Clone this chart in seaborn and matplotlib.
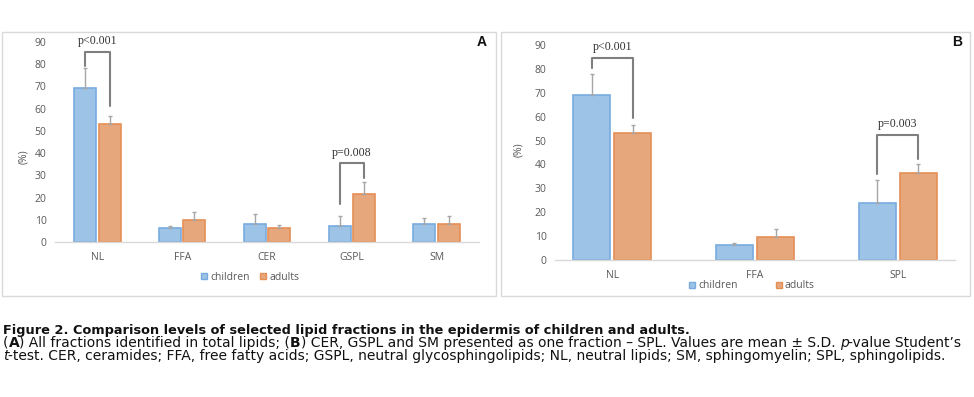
import numpy as np
import pandas as pd
import matplotlib
matplotlib.use("Agg")
import matplotlib.pyplot as plt
from matplotlib.patches import Rectangle, Patch
import seaborn as sns

# ---------------- data ----------------
groups = ["children", "adults"]

a_categories = ["NL", "FFA", "CER", "GSPL", "SM"]
a_children = [69.1, 6.3, 8.4, 7.2, 8.4]
a_children_sd = [8.9, 0.9, 4.2, 4.5, 2.4]
a_adults = [53.2, 9.9, 6.3, 21.7, 8.1]
a_adults_sd = [3.6, 3.6, 1.5, 5.5, 3.6]

b_categories = ["NL", "FFA", "SPL"]
b_children = [68.9, 6.1, 24.0]
b_children_sd = [9.1, 1.2, 9.6]
b_adults = [53.0, 9.6, 36.4]
b_adults_sd = [3.6, 3.5, 3.9]

# significance brackets: (category, label, top, left leg end, right leg end)
a_brackets = [("NL", "p<0.001", 85.5, 79.2, 61.0),
              ("GSPL", "p=0.008", 35.6, 17.0, 28.7)]
b_brackets = [("NL", "p<0.001", 84.4, 80.2, 59.3),
              ("SPL", "p=0.003", 52.4, 36.1, 42.1)]

yticks = [0, 10, 20, 30, 40, 50, 60, 70, 80, 90]

caption_title = "Figure 2. Comparison levels of selected lipid fractions in the epidermis of children and adults."
caption_l2 = [("(", "normal"), ("A", "bold"), (") All fractions identified in total lipids; (", "normal"),
              ("B", "bold"),
              (") CER, GSPL and SM presented as one fraction \u2013 SPL. Values are mean \u00b1 S.D. ", "normal"),
              ("p", "italic"), ("-value Student\u2019s", "normal")]
caption_l3 = [("t", "italic"),
              ("-test. CER, ceramides; FFA, free fatty acids; GSPL, neutral glycosphingolipids; NL, neutral lipids; SM, sphingomyelin; SPL, sphingolipids.", "normal")]

# ---------------- style ----------------
sns.set_theme(style="white")
plt.rcParams["font.family"] = ["Open Sans", "DejaVu Sans"]

fill = {"children": "#9dc3e6", "adults": "#e6a77d"}
edge = {"children": "#78acdf", "adults": "#e68f55"}
grey_txt = "#595959"

W, H = 974, 397
fig = plt.figure(figsize=(W / 100, H / 100), dpi=100)


def px_axes(left, right, top, bottom):
    return fig.add_axes([left / W, 1 - bottom / H, (right - left) / W, (bottom - top) / H])


def draw_panel(ax, cats, ch, ch_sd, ad, ad_sd, brackets, letter, letter_xy, legend_xy, colsp,
               ylabel_xy):
    df = pd.DataFrame({
        "cat": cats * 2,
        "grp": ["children"] * len(cats) + ["adults"] * len(cats),
        "val": ch + ad,
    })
    sns.barplot(data=df, x="cat", y="val", hue="grp", hue_order=groups, order=cats,
                palette=fill, saturation=1, width=0.575, gap=0.1, errorbar=None,
                legend=False, ax=ax)
    centers = {}
    for cont, g, sd in zip(ax.containers, groups, [ch_sd, ad_sd]):
        xs, ys = [], []
        for p in cont:
            p.set_edgecolor(edge[g])
            p.set_linewidth(1.2)
            xs.append(p.get_x() + p.get_width() / 2)
            ys.append(p.get_height())
        centers[g] = xs
        ax.errorbar(xs, ys, yerr=[np.zeros(len(sd)), sd], fmt="none", ecolor="#a6a6a6",
                    elinewidth=1.0, capsize=1.6, capthick=1.0, zorder=1)
    for cat, lab, top, lend, rend in brackets:
        i = cats.index(cat)
        xl, xr = centers["children"][i], centers["adults"][i]
        ax.plot([xl, xl, xr, xr], [lend, top, top, rend], color="#7f7f7f", lw=1.5,
                clip_on=False, zorder=5)
        ax.text((xl + xr) / 2, top + 4.6, lab, ha="center", va="center",
                fontsize=8.6, color="#333333", family=["Liberation Serif", "DejaVu Serif"],
                clip_on=False)
    ax.set_ylim(0, 90)
    ax.set_yticks(yticks)
    ax.set_yticklabels([str(t) for t in yticks], fontsize=7.5, color=grey_txt)
    ax.tick_params(axis="x", labelsize=7.5, labelcolor=grey_txt, length=0, pad=7)
    ax.tick_params(axis="y", length=0, pad=6)
    ax.set_xlabel("")
    ax.set_ylabel("(%)", fontsize=7.5, color=grey_txt)
    ax.yaxis.set_label_coords(*ylabel_xy)
    for s in ["top", "right", "left"]:
        ax.spines[s].set_visible(False)
    ax.spines["bottom"].set_color("#d9d9d9")
    ax.spines["bottom"].set_linewidth(1)
    ax.patch.set_alpha(0)
    fig.text(letter_xy[0] / W, 1 - letter_xy[1] / H, letter, fontsize=10, fontweight="bold",
             family=["Liberation Sans", "DejaVu Sans"], ha="center", va="center", color="#111111")
    handles = [Patch(facecolor=fill[g], edgecolor=edge[g]) for g in groups]
    fig.legend(handles, groups, loc="center", bbox_to_anchor=(legend_xy[0] / W, 1 - legend_xy[1] / H),
               ncol=2, frameon=False, fontsize=7.5, labelcolor=grey_txt, handlelength=0.6,
               handleheight=0.6, handletextpad=0.3, columnspacing=colsp, borderpad=0)


# panel frames
for (x0, x1) in [(2, 496), (501, 970)]:
    fig.patches.append(Rectangle((x0 / W, 1 - 296 / H), (x1 - x0) / W, 264 / H,
                                 transform=fig.transFigure, fill=False,
                                 edgecolor="#d9d9d9", lw=1))

axA = px_axes(55, 479, 41.7, 242.3)
draw_panel(axA, a_categories, a_children, a_children_sd, a_adults, a_adults_sd,
           a_brackets, "A", (482, 42), (250, 277), 1.0, (-0.061, 0.425))

axB = px_axes(555, 955, 45, 260)
draw_panel(axB, b_categories, b_children, b_children_sd, b_adults, b_adults_sd,
           b_brackets, "B", (957, 42), (752, 286), 3.6, (-0.0775, 0.512))

# ---------------- caption ----------------
cap_kw = dict(family=["DejaVu Sans"])
renderer = fig.canvas.get_renderer()


def rich_line(parts, x0, ybase, size):
    x = x0
    objs = []
    for txt, st in parts:
        kw = dict(fontsize=size, color="#111111", va="baseline", ha="left", **cap_kw)
        if st == "bold":
            kw["fontweight"] = "bold"
        elif st == "italic":
            kw["fontstyle"] = "italic"
        t = fig.text(x / W, 1 - ybase / H, txt, **kw)
        bb = t.get_window_extent(renderer)
        x += bb.width
        objs.append(t)
    return x - x0, objs


def fit_size(parts, target, trial=9.0, cap=10.0):
    w, objs = rich_line(parts, 3, 344, trial)
    for o in objs:
        o.remove()
    return min(trial * target / w, cap)


title_parts = [(caption_title, "bold")]
size = fit_size(caption_l2, 969)
tsize = fit_size(title_parts, 682)

rich_line(title_parts, 3, 334, tsize)
rich_line(caption_l2, 3, 347, size)
rich_line(caption_l3, 3, 360, size)

fig.savefig("out.png", dpi=100)
